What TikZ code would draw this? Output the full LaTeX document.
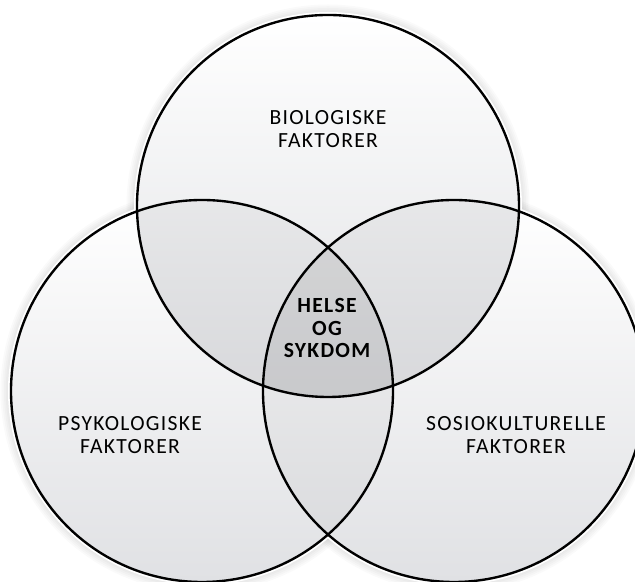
\documentclass[tikz,border=0pt]{standalone}
\usepackage{fontspec}
\setmainfont{Carlito}[LetterSpace=6]
\definecolor{circlegray}{RGB}{224,225,228}
\begin{document}
\begin{tikzpicture}
    [font=\fontsize{12.3}{12.6}\selectfont,
    rim/.style={fill=white},
    disc/.style={top color=white,bottom color=circlegray},
    overlap/.style={fill=black,opacity=0.035},
    ring/.style={draw=black,line width=1.35pt},
    factor/.style={align=center,inner sep=0pt}]

    \useasboundingbox (0,0) rectangle (12.7,11.64);
    \clip (0,0) rectangle (12.7,11.64);
    \def\r{3.82}

    \coordinate (T) at (6.56,7.52);
    \coordinate (L) at (4.04,3.82);
    \coordinate (R) at (9.08,3.82);

    % soft shadow and white rim
    \foreach \c in {T,L,R}
      \foreach \d in {1,...,6}
        \fill [black,opacity=0.02,yshift=-1pt] (\c) circle (\r+0.035*\d);
    \foreach \c in {T,L,R}
      \fill [rim] (\c) circle (\r+0.06);

    \shade [disc] (L) circle (\r);
    \shade [disc] (R) circle (\r);
    \shade [disc] (T) circle (\r);

    \begin{scope}
      \clip (T) circle (\r);
      \fill [overlap] (L) circle (\r);
      \fill [overlap] (R) circle (\r);
    \end{scope}
    \begin{scope}
      \clip (L) circle (\r);
      \fill [overlap] (R) circle (\r);
    \end{scope}

    \draw [ring] (T) circle (\r);
    \draw [ring] (L) circle (\r);
    \draw [ring] (R) circle (\r);

    \node (bio) [factor] at (6.56,9.06) {BIOLOGISKE\\FAKTORER};
    \node (psy) [factor] at (2.6,2.94) {PSYKOLOGISKE\\FAKTORER};
    \node (sos) [factor] at (10.32,2.94) {SOSIOKULTURELLE\\FAKTORER};
    \node (helse) [factor,font=\fontsize{12.3}{12.6}\selectfont\bfseries] at (6.54,5.08) {HELSE\\OG\\SYKDOM};

\end{tikzpicture}
\end{document}
